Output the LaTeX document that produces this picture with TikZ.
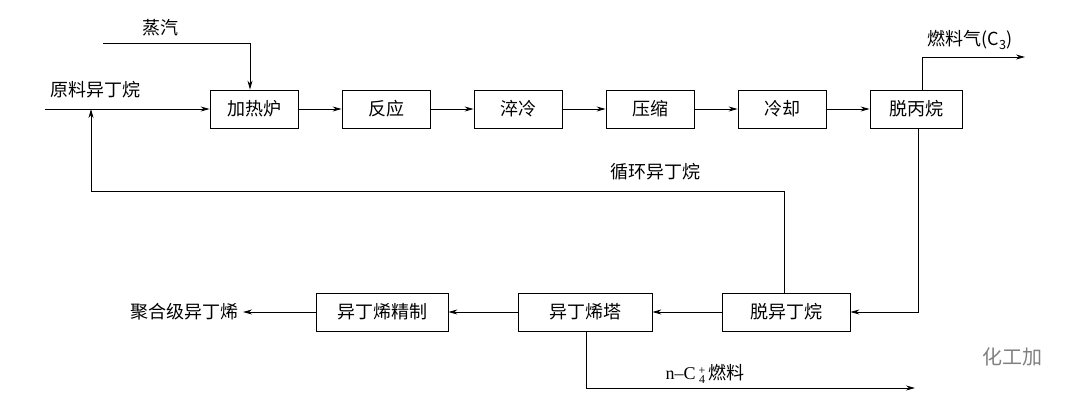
\documentclass[tikz,border=0pt]{standalone}
\usepackage{fontspec}
\setmainfont{Liberation Serif}
\newfontfamily\cjk{Noto Sans CJK SC}
\usetikzlibrary{arrows.meta}
\begin{document}
\begin{tikzpicture}[x=1pt,y=-1pt,
 box/.style={draw,line width=0.8pt,minimum height=38pt,inner sep=0pt,font=\cjk\fontsize{18}{18}\selectfont},
 lab/.style={font=\cjk\fontsize{18}{18}\selectfont,inner sep=1pt},
 ln/.style={line width=0.8pt},
 ar/.style={ln,-{Stealth[length=9pt,width=5pt]}}]
\useasboundingbox (0,0) rectangle (1080,405);
\node[box,minimum width=88pt] (h) at (254,109) {加热炉};
\node[box,minimum width=88pt] (r) at (386,109) {反应};
\node[box,minimum width=88pt] (q) at (518,109) {淬冷};
\node[box,minimum width=88pt] (c) at (650,109) {压缩};
\node[box,minimum width=88pt] (k) at (782,109) {冷却};
\node[box,minimum width=92pt] (d) at (916,109) {脱丙烷};
\node[box,minimum width=132pt] (p) at (382,312) {异丁烯精制};
\node[box,minimum width=134pt] (t) at (585,312) {异丁烯塔};
\node[box,minimum width=128pt] (i) at (786,312) {脱异丁烷};
\coordinate (feed) at (45,109);
\coordinate (st) at (103,43);
\coordinate (rc) at (91,109);
\coordinate (fg) at (1025,57);
\coordinate (nc) at (915,388);
\coordinate (pr) at (243,312);
\draw[ln] (feed) -- (rc);
\draw[ar] (rc) -- (h.west);
\draw[ar] (st) -| (h.north -| 250,0);
\draw[ar] (h) -- (r);
\draw[ar] (r) -- (q);
\draw[ar] (q) -- (c);
\draw[ar] (c) -- (k);
\draw[ar] (k) -- (d);
\draw[ar] (d.north -| 922,0) |- (fg);
\draw[ar] (d.south -| 918,0) |- (i.east);
\draw[ar] (i) -- (t);
\draw[ar] (t) -- (p);
\draw[ar] (p) -- (pr);
\draw[ar] (i.north -| 784,0) |- (91,191) -- (rc);
\draw[ar] (t.south -| 586,0) |- (nc);
\node[lab,anchor=east] at (pr) {聚合级异丁烯\,};
\node[lab] at (160,28) {蒸汽};
\node[lab] at (95,90) {原料异丁烷};
\node[lab] at (655,172) {循环异丁烷};
\node[lab] at (970,40) {{\cjk 燃料气}(C\textsubscript{3})};
\node[lab] (n) at (705,374) {\fontspec{Liberation Serif}n–C\,\raisebox{-4pt}{\fontsize{12}{12}\selectfont\shortstack{+\\[-2pt]4}}\hspace{3pt}{\cjk 燃料}};
\node[lab,text=gray,font=\cjk\fontsize{20}{20}\selectfont] at (1012,357) {化工加};
\end{tikzpicture}
\end{document}
